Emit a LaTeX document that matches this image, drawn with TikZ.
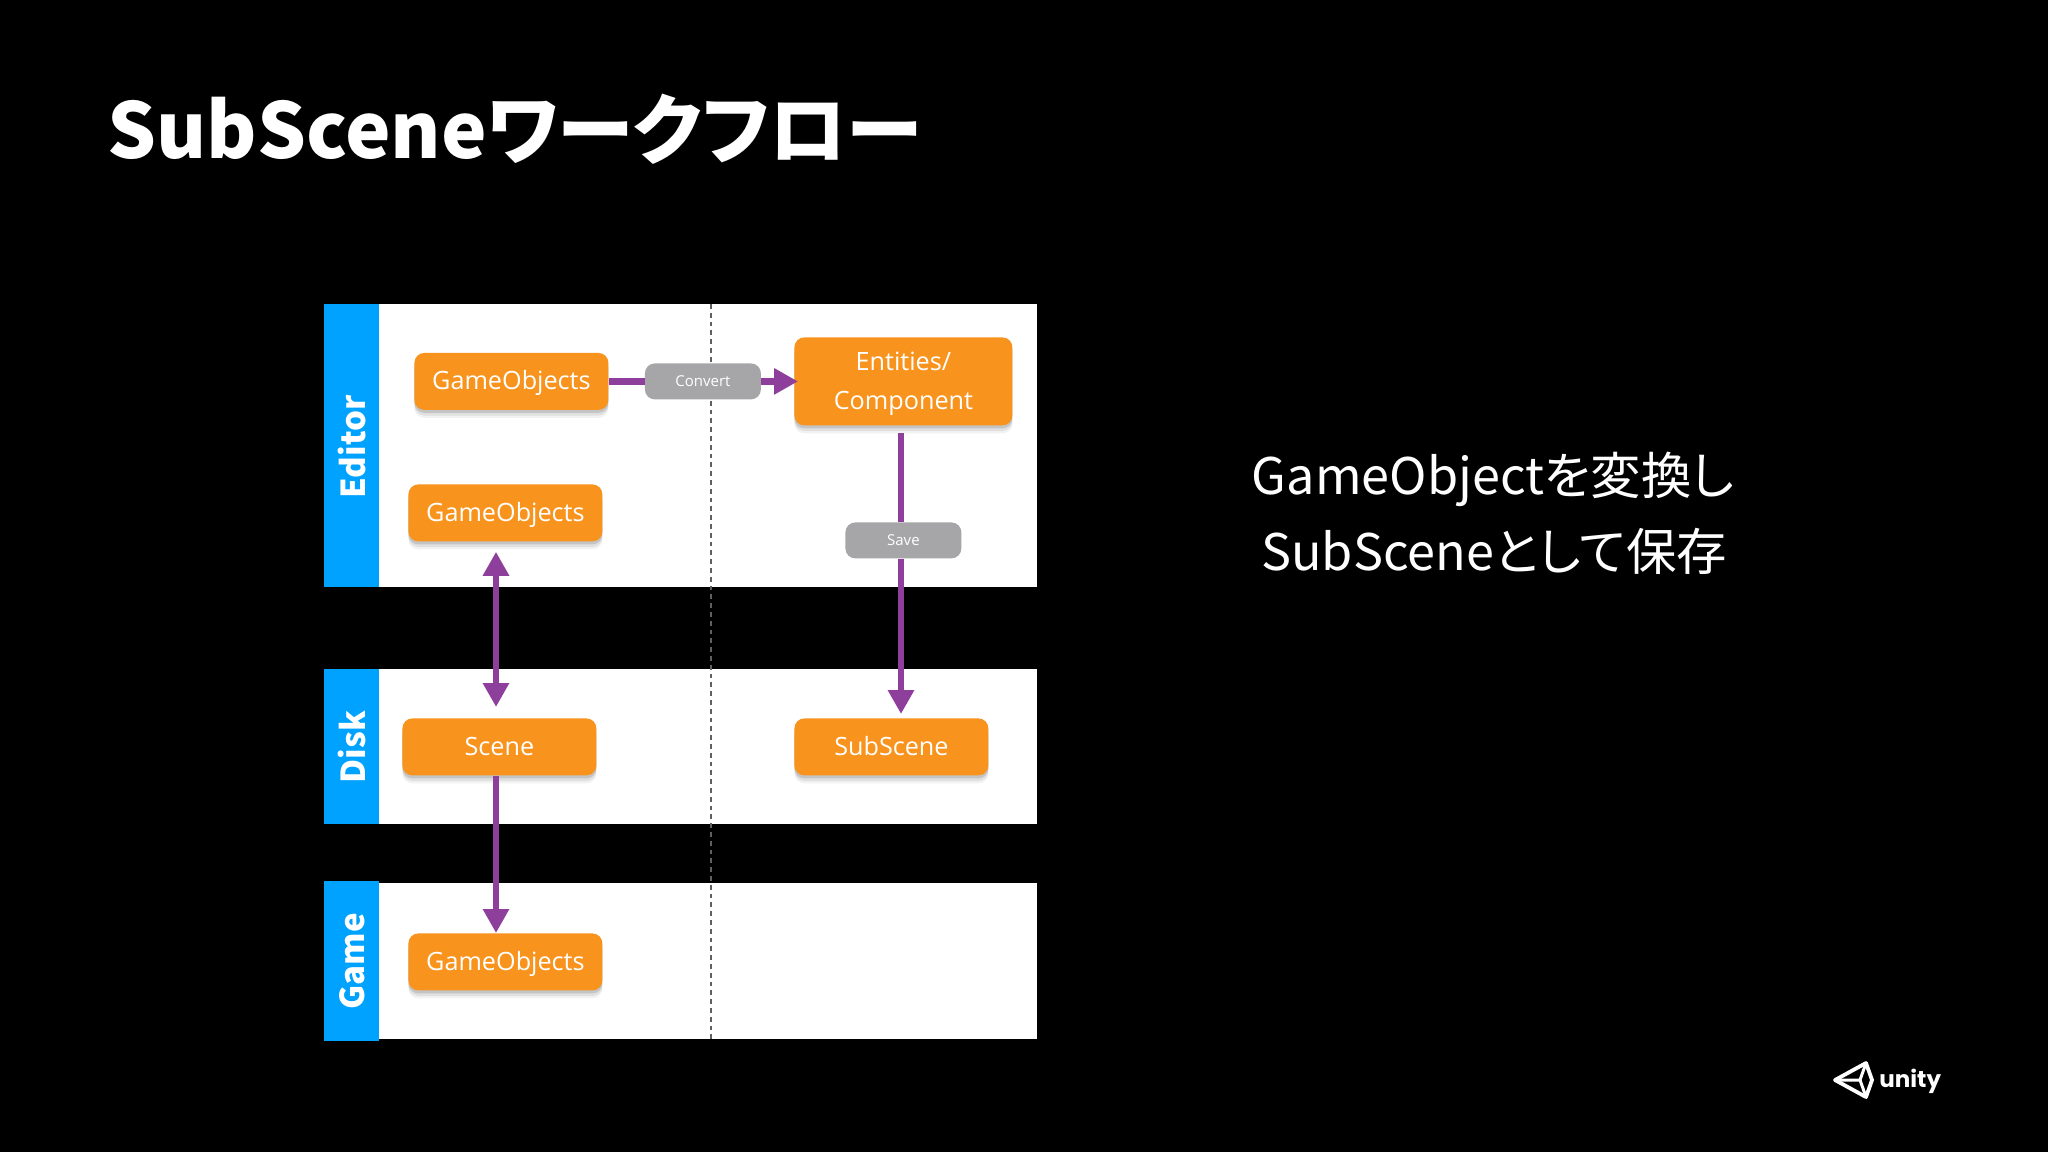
\documentclass[tikz,border=0pt]{standalone}
\usepackage{fontspec}
\usetikzlibrary{arrows.meta,shadows}
\setmainfont{Open Sans}
\newfontfamily\cjk{Noto Sans CJK JP}[RawFeature={+palt}]
\newfontfamily\cjkplain{Noto Sans CJK JP}
\definecolor{bandblue}{HTML}{00A2FF}
\definecolor{boxorange}{HTML}{F8931D}
\definecolor{flowpurple}{HTML}{8E3F9C}
\definecolor{tagray}{HTML}{A6A6A8}
\definecolor{dashgray}{HTML}{606060}
\tikzset{
  band/.style={fill=white,draw=none},
  side/.style={fill=bandblue,draw=none,inner sep=0pt,anchor=north west,minimum width=27.5pt},
  sidelabel/.style={text=white,rotate=90,font=\cjkplain\bfseries\fontsize{16.5}{16.5}\selectfont,inner sep=0pt},
  box/.style={fill=boxorange,text=white,rounded corners=5pt,inner sep=0pt,anchor=north west,align=center,
    font=\fontsize{12.6}{19.4}\selectfont,
    general shadow={fill=black,opacity=.05,shadow xshift=0pt,shadow yshift=-4pt},
    general shadow={fill=black,opacity=.07,shadow xshift=0pt,shadow yshift=-2.8pt},
    general shadow={fill=black,opacity=.12,shadow xshift=0pt,shadow yshift=-1.5pt}},
  oneline/.style={text height=11.4pt,text depth=3pt},
  tag/.style={fill=tagray,text=white,rounded corners=5pt,inner sep=0pt,anchor=north west,minimum width=58pt,minimum height=18pt,
    font=\fontsize{7.5}{9}\selectfont},
  flow/.style={draw=flowpurple,line width=3.2pt,-{Triangle[length=12pt,width=12.5pt]}},
  flowplain/.style={draw=flowpurple,line width=3.2pt},
  flowboth/.style={draw=flowpurple,line width=3.2pt,{Triangle[length=12pt,width=12.5pt]}-{Triangle[length=12pt,width=12.5pt]}},
  divider/.style={draw=dashgray,line width=.7pt,dash pattern=on 2.4pt off 2pt},
}
\begin{document}
\begin{tikzpicture}[x=.5pt,y=-.5pt]
\useasboundingbox[fill=black] (0,0) rectangle (2048,1152);
% title
\node[anchor=base west,text=white,inner sep=0pt,font=\cjk\bfseries\fontsize{38.4}{38.4}\selectfont] (title) at (107,158) {SubSceneワークフロー};
% swimlanes
\node[band,anchor=north west,inner sep=0pt,minimum width=356.5pt,minimum height=141.5pt] (editorband) at (324,304) {};
\node[band,anchor=north west,inner sep=0pt,minimum width=356.5pt,minimum height=77.5pt] (diskband) at (324,669) {};
\node[band,anchor=north west,inner sep=0pt,minimum width=356.5pt,minimum height=78pt] (gameband) at (324,883) {};
\node[side,minimum height=141.5pt] (editorside) at (324,304) {};
\node[side,minimum height=77.5pt] (diskside) at (324,669) {};
\node[side,minimum height=80pt] (gameside) at (324,881) {};
\node[sidelabel] (editorlabel) at (352,447) {Editor};
\node[sidelabel] (disklabel) at (352,747) {Disk};
\node[sidelabel] (gamelabel) at (352,961) {Game};
% divider
\coordinate (dtop) at (711,304);
\coordinate (dbot) at (711,1041);
\draw[divider] (dtop) -- (dbot);
% boxes
\node[box,oneline,minimum width=97pt,minimum height=28.5pt] (go1) at (414,352.5) {GameObjects};
\node[box,oneline,minimum width=97pt,minimum height=28.5pt] (go2) at (408,484) {GameObjects};
\node[box,minimum width=109pt,minimum height=44pt] (ent) at (794,337) {\rule{0pt}{11.5pt}Entities/\\Component};
\node[box,oneline,minimum width=97pt,minimum height=28.5pt] (scene) at (402,718) {Scene};
\node[box,oneline,minimum width=97pt,minimum height=28.5pt] (sub) at (794,718) {SubScene};
\node[box,oneline,minimum width=97pt,minimum height=28.5pt] (go3) at (408,933) {GameObjects};
\node[tag] (convert) at (644.5,363) {Convert};
\node[tag] (save) at (845,522) {Save};
% connectors
\coordinate (xa) at (496,0);
\coordinate (xb) at (901,0);
\draw[flowplain] (go1.east) -- (convert.west);
\draw[flow,shorten >=-2pt] (convert.east) -- (ent.west);
\draw[flowboth,shorten <=5pt,shorten >=5.5pt] (go2.south -| xa) -- (scene.north -| xa);
\draw[flowplain,shorten <=3.5pt] (ent.south -| xb) -- (save.north -| xb);
\draw[flow,shorten >=2pt] (save.south -| xb) -- (sub.north -| xb);
\draw[flow] (scene.south -| xa) -- (go3.north -| xa);
% side text
\node[anchor=base,text=white,inner sep=0pt,font=\cjk\fontsize{25.2}{25.2}\selectfont] (line1) at (1493,494) {GameObjectを変換し};
\node[anchor=base,text=white,inner sep=0pt,font=\cjk\fontsize{25.2}{25.2}\selectfont] (line2) at (1494,570) {SubSceneとして保存};
% logo
\draw[white,line width=1.9pt,line join=round] (1835,1080) -- (1866,1063) -- (1872,1080) -- (1866,1097) -- cycle;
\draw[white,line width=1.5pt,line join=round] (1835,1080) -- (1860,1080) -- (1866,1063);
\draw[white,line width=1.5pt,line join=round] (1860,1080) -- (1866,1097);
\node[anchor=base west,text=white,inner sep=0pt,font=\fontspec{Poppins}\bfseries\fontsize{11.5}{12}\selectfont] (unity) at (1879,1087) {unity};
\end{tikzpicture}
\end{document}
